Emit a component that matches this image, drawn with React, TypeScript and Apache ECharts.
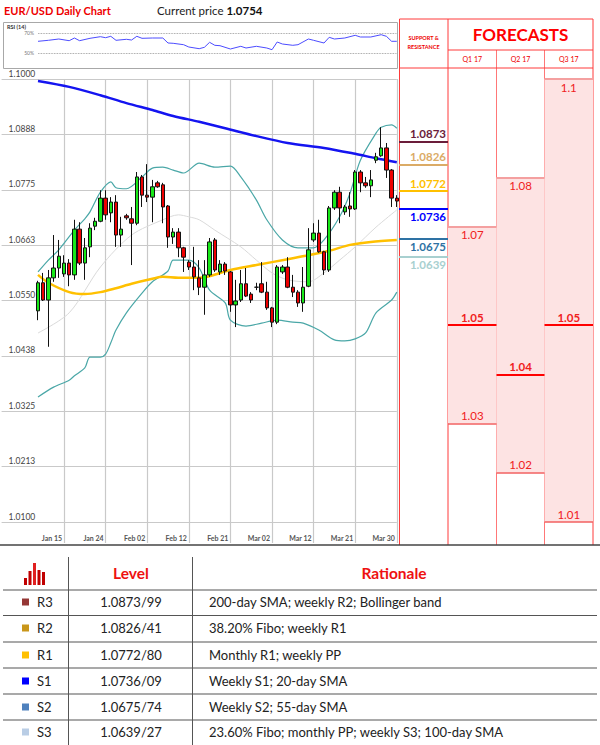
import React, { useEffect, useRef } from 'react';
import * as echarts from 'echarts';

// ---------- data ----------
const PAD = 7; // empty slots before the first candle
const xTickLabels = ['Jan 15', 'Jan 24', 'Feb 02', 'Feb 12', 'Feb 21', 'Mar 02', 'Mar 12', 'Mar 21', 'Mar 30'];
const yTickValues = [1.01, 1.02125, 1.0325, 1.04375, 1.055, 1.06625, 1.0775, 1.08875, 1.1];
const yTickLabels = ['1.0100', '1.0213', '1.0325', '1.0438', '1.0550', '1.0663', '1.0775', '1.0888', '1.1000'];

// [open, close, low, high]
const candles: number[][] = [
  [1.0529, 1.0586, 1.0510, 1.0590], [1.0586, 1.0551, 1.0549, 1.0606], [1.0551, 1.0596, 1.0456, 1.0612],
  [1.0596, 1.0616, 1.0588, 1.0683], [1.0616, 1.0640, 1.0596, 1.0673], [1.0604, 1.0626, 1.0598, 1.0642],
  [1.0626, 1.0602, 1.0579, 1.0634], [1.0602, 1.0695, 1.0592, 1.0714], [1.0695, 1.0626, 1.0622, 1.0709],
  [1.0626, 1.0657, 1.0592, 1.0677], [1.0659, 1.0697, 1.0638, 1.0707], [1.0701, 1.0711, 1.0693, 1.0718],
  [1.0711, 1.0758, 1.0709, 1.0774], [1.0758, 1.0724, 1.0714, 1.0774], [1.0728, 1.0750, 1.0709, 1.0760],
  [1.0750, 1.0683, 1.0659, 1.0764], [1.0683, 1.0695, 1.0659, 1.0720], [1.0722, 1.0718, 1.0714, 1.0726],
  [1.0716, 1.0707, 1.0622, 1.0740], [1.0707, 1.0801, 1.0703, 1.0811], [1.0801, 1.0764, 1.0740, 1.0805],
  [1.0764, 1.0760, 1.0750, 1.0827], [1.0760, 1.0781, 1.0709, 1.0795], [1.0789, 1.0781, 1.0779, 1.0793],
  [1.0785, 1.0740, 1.0707, 1.0789], [1.0742, 1.0679, 1.0657, 1.0744], [1.0679, 1.0689, 1.0665, 1.0697],
  [1.0689, 1.0657, 1.0638, 1.0697], [1.0657, 1.0638, 1.0608, 1.0659], [1.0628, 1.0618, 1.0612, 1.0632],
  [1.0618, 1.0598, 1.0571, 1.0659], [1.0596, 1.0577, 1.0561, 1.0632], [1.0577, 1.0602, 1.0521, 1.0632],
  [1.0602, 1.0669, 1.0598, 1.0677], [1.0673, 1.0612, 1.0608, 1.0677], [1.0608, 1.0624, 1.0602, 1.0632],
  [1.0624, 1.0610, 1.0602, 1.0628], [1.0608, 1.0541, 1.0527, 1.0610], [1.0541, 1.0549, 1.0496, 1.0592],
  [1.0551, 1.0584, 1.0547, 1.0612], [1.0584, 1.0559, 1.0557, 1.0616], [1.0563, 1.0551, 1.0545, 1.0567],
  [1.0577, 1.0577, 1.0571, 1.0586], [1.0584, 1.0567, 1.0565, 1.0628], [1.0567, 1.0535, 1.0531, 1.0588],
  [1.0535, 1.0506, 1.0496, 1.0537], [1.0506, 1.0618, 1.0502, 1.0622], [1.0608, 1.0618, 1.0604, 1.0622],
  [1.0618, 1.0577, 1.0575, 1.0638], [1.0577, 1.0567, 1.0557, 1.0602], [1.0567, 1.0545, 1.0537, 1.0571],
  [1.0545, 1.0577, 1.0527, 1.0618], [1.0579, 1.0653, 1.0577, 1.0697], [1.0673, 1.0687, 1.0669, 1.0707],
  [1.0687, 1.0649, 1.0647, 1.0714], [1.0649, 1.0612, 1.0602, 1.0651], [1.0612, 1.0738, 1.0608, 1.0742],
  [1.0738, 1.0770, 1.0734, 1.0774], [1.0770, 1.0738, 1.0707, 1.0781], [1.0730, 1.0740, 1.0724, 1.0744],
  [1.0742, 1.0736, 1.0720, 1.0770], [1.0736, 1.0811, 1.0734, 1.0815], [1.0811, 1.0789, 1.0770, 1.0815],
  [1.0789, 1.0783, 1.0779, 1.0801], [1.0783, 1.0795, 1.0760, 1.0815], [1.0835, 1.0842, 1.0829, 1.0850],
  [1.0844, 1.0860, 1.0842, 1.0902], [1.0860, 1.0815, 1.0799, 1.0870], [1.0815, 1.0758, 1.0740, 1.0817],
  [1.0758, 1.0752, 1.0740, 1.0764],
];

// [candle index, value]
const sma200: number[][] = [[0, 1.0996], [6, 1.0984], [12, 1.0967], [17, 1.0951], [22, 1.0937], [26, 1.0925], [31, 1.0913], [36, 1.0900], [42, 1.0884], [48, 1.0870], [55, 1.0860], [61, 1.0848], [65, 1.0839], [69, 1.0831]];
const sma55: number[][] = [[0, 1.0602], [2, 1.0586], [6, 1.0567], [9, 1.0563], [12, 1.0567], [15, 1.0575], [18, 1.0584], [22, 1.0594], [24, 1.0598], [27, 1.0596], [31, 1.0596], [37, 1.0612], [42, 1.0622], [48, 1.0634], [52, 1.0642], [56, 1.0651], [60, 1.0663], [64, 1.0669], [69, 1.0673]];
const sma20: number[][] = [[0, 1.0484], [6, 1.0525], [12, 1.0618], [18, 1.0683], [24, 1.0714], [27, 1.0724], [29, 1.0720], [31, 1.0714], [34, 1.0693], [39, 1.0659], [42, 1.0632], [45, 1.0606], [48, 1.0592], [52, 1.0588], [55, 1.0606], [58, 1.0632], [61, 1.0659], [65, 1.0699], [69, 1.0734]];
const bbUpper: number[][] = [[0, 1.0608], [2, 1.0632], [4, 1.0653], [7, 1.0693], [9, 1.0716], [10, 1.0730], [12, 1.0770], [14, 1.0791], [15, 1.0779], [17, 1.0777], [20, 1.0801], [22, 1.0819], [24, 1.0821], [26, 1.0815], [28, 1.0809], [31, 1.0829], [34, 1.0821], [37, 1.0823], [39, 1.0801], [42, 1.0754], [44, 1.0714], [47, 1.0673], [50, 1.0657], [53, 1.0657], [55, 1.0673], [58, 1.0720], [60, 1.0768], [62, 1.0835], [65, 1.0890], [66, 1.0902], [68, 1.0907], [69, 1.0900]];
const bbLower: number[][] = [[0, 1.0354], [3, 1.0374], [6, 1.0388], [7, 1.0397], [9, 1.0413], [10, 1.0435], [12, 1.0435], [13, 1.0441], [14, 1.0464], [15, 1.0490], [17, 1.0525], [20, 1.0565], [22, 1.0588], [25, 1.0610], [26, 1.0632], [29, 1.0632], [31, 1.0616], [33, 1.0571], [36, 1.0545], [37, 1.0510], [40, 1.0498], [43, 1.0504], [46, 1.0510], [49, 1.0506], [51, 1.0504], [54, 1.0490], [57, 1.0470], [59, 1.0468], [61, 1.0472], [63, 1.0484], [65, 1.0525], [68, 1.0551], [69, 1.0567]];
const rsi14: number[][] = [[0, 61.7], [2, 62.7], [4, 64], [6, 62.3], [7, 65], [8, 62.3], [10, 64.7], [12, 66.3], [13, 65.3], [14, 66.7], [15, 62.7], [17, 63.7], [18, 63], [19, 66.7], [20, 64.7], [22, 65], [24, 65], [25, 60], [26, 59.7], [28, 58.3], [29, 56], [31, 54.3], [32, 55.7], [33, 60.7], [34, 57.7], [35, 57.3], [37, 54], [39, 56.7], [40, 55], [42, 56.7], [44, 55], [45, 53.3], [46, 61], [47, 59], [49, 57.7], [50, 58.3], [52, 64], [53, 62.7], [55, 60], [56, 65.7], [57, 64], [59, 65], [61, 67.7], [62, 66], [64, 66], [66, 68.3], [67, 66.7], [68, 61.7], [69, 61.7]];
const rsiLevels = [70, 50];

const currentPrice = '1.0754';
const srLevels = [1.0873, 1.0826, 1.0772, 1.0736, 1.0675, 1.0639];
const srColors = ['#6b1d3a', '#dbab66', '#ffc000', '#0000ff', '#2e72a4', '#a8d0d0'];

const forecastQuarters = ['Q1 17', 'Q2 17', 'Q3 17'];
const forecastHigh = [1.07, 1.08, 1.1];
const forecastMid = [1.05, 1.04, 1.05];
const forecastLow = [1.03, 1.02, 1.01];

const tableCodes = ['R3', 'R2', 'R1', 'S1', 'S2', 'S3'];
const tableLevels = ['1.0873/99', '1.0826/41', '1.0772/80', '1.0736/09', '1.0675/74', '1.0639/27'];
const tableRationales = [
  '200-day SMA; weekly R2; Bollinger band',
  '38.20% Fibo; weekly R1',
  'Monthly R1; weekly PP',
  'Weekly S1; 20-day SMA',
  'Weekly S2; 55-day SMA',
  '23.60% Fibo; monthly PP; weekly S3; 100-day SMA',
];
const tableColors = ['#953735', '#c9961a', '#ffc000', '#0000ff', '#4f81bd', '#b9cde5'];

// ---------- layout ----------
const FONT = 'Lato, "Liberation Sans", Arial, sans-serif';
const RED = '#ee1111';
const GRID_GRAY = '#c9c9c9';
const colLeft = [399, 448, 496.5, 544.5];
const colWidth = [49, 48.5, 48, 48.5];
const PANEL_RIGHT = 593;

export default function App() {
  const ref = useRef<HTMLDivElement>(null);

  useEffect(() => {
    const chart = echarts.init(ref.current!, null, { renderer: 'svg' });
    const nCat = PAD + candles.length;
    const isTick = (idx: number) => idx >= PAD + 5 && (idx - PAD - 5) % 8 === 0;
    const categories = Array.from({ length: nCat }, (_, k) =>
      isTick(k) ? xTickLabels[(k - PAD - 5) / 8] : '_' + k
    );
    const shift = (arr: number[][]) => arr.map(([i, v]) => [i + PAD, v]);
    const candleData: any[] = [...Array(PAD).fill('-'), ...candles];

    const lineSeries = (name: string, arr: number[][], color: string, width: number) => ({
      name,
      type: 'line',
      xAxisIndex: 0,
      yAxisIndex: 0,
      data: shift(arr),
      symbol: 'none',
      smooth: 0.3,
      silent: true,
      z: 2,
      lineStyle: { color, width },
    });

    const series: any[] = [
      {
        type: 'line',
        xAxisIndex: 0,
        yAxisIndex: 0,
        data: [],
        silent: true,
        markLine: {
          silent: true,
          z: 1,
          precision: 6,
          symbol: ['none', 'none'],
          lineStyle: { color: GRID_GRAY, type: 'solid', width: 1.2 },
          label: {
            show: true,
            position: 'insideStartTop',
            distance: [7, 1],
            color: '#444',
            fontSize: 8.5,
            fontFamily: FONT,
          },
          data: yTickValues.map((v, k) => ({ yAxis: v, label: { formatter: yTickLabels[k] } })),
        },
      },
      lineSeries('20-day SMA', sma20, '#dadada', 1),
      lineSeries('BB upper', bbUpper, '#4aa7a7', 1.2),
      lineSeries('BB lower', bbLower, '#4aa7a7', 1.2),
      lineSeries('55-day SMA', sma55, '#ffc000', 2.5),
      lineSeries('200-day SMA', sma200, '#1414f0', 2.5),
      {
        type: 'candlestick',
        xAxisIndex: 0,
        yAxisIndex: 0,
        data: candleData,
        barWidth: 4,
        silent: true,
        z: 3,
        itemStyle: {
          color: '#18e818',
          color0: '#ee0000',
          borderColor: '#111',
          borderColor0: '#111',
          borderWidth: 1,
        },
      },
      {
        type: 'line',
        xAxisIndex: 5,
        yAxisIndex: 5,
        data: shift(rsi14),
        symbol: 'none',
        silent: true,
        lineStyle: { color: '#4c4cff', width: 1 },
        markLine: {
          silent: true,
          precision: 6,
          symbol: ['none', 'none'],
          lineStyle: { color: '#888', type: 'dotted', width: 0.8 },
          label: { show: true, position: 'start', distance: 4, fontSize: 5, color: '#777', fontFamily: FONT },
          data: rsiLevels.map((v) => [
            { coord: [PAD, v], label: { formatter: v + '%' } },
            { coord: [PAD + candles.length - 1, v] },
          ]),
        },
      },
      {
        type: 'line',
        xAxisIndex: 1,
        yAxisIndex: 1,
        data: [],
        silent: true,
        markLine: {
          silent: true,
          precision: 6,
          symbol: ['none', 'none'],
          data: srLevels.map((v, k) => ({
            yAxis: v,
            lineStyle: { color: srColors[k], width: 2, type: 'solid' },
            label: {
              show: true,
              position: k < 3 ? 'insideEndTop' : 'insideEndBottom',
              distance: [2, 2],
              formatter: v.toFixed(4),
              color: srColors[k],
              fontWeight: 'bold',
              fontSize: 11.5,
              fontFamily: FONT,
            },
          })),
        },
      },
      ...forecastQuarters.map((_, q) => ({
        type: 'line',
        xAxisIndex: 2 + q,
        yAxisIndex: 2 + q,
        data: [],
        silent: true,
        markArea: {
          silent: true,
          itemStyle: { color: '#fde3e3', borderWidth: 0 },
          data: [[{ yAxis: forecastHigh[q] }, { yAxis: forecastLow[q] }]],
        },
        markLine: {
          silent: true,
          precision: 6,
          symbol: ['none', 'none'],
          label: { show: true, fontSize: 11.5, color: '#f02020', fontFamily: FONT, distance: 2 },
          data: [
            {
              yAxis: forecastHigh[q],
              lineStyle: { color: '#f4a0a0', width: 2, type: 'solid' },
              label: { position: 'insideMiddleBottom', formatter: String(forecastHigh[q]) },
            },
            {
              yAxis: forecastMid[q],
              lineStyle: { color: '#ff0000', width: 2, type: 'solid' },
              label: { position: 'insideMiddleTop', formatter: String(forecastMid[q]), fontWeight: 'bold' },
            },
            {
              yAxis: forecastLow[q],
              lineStyle: { color: '#f26060', width: 1.5, type: 'solid' },
              label: { position: 'insideMiddleTop', formatter: String(forecastLow[q]) },
            },
          ],
        },
      })),
    ];

    const graphic: any[] = [];
    const line = (x1: number, y1: number, x2: number, y2: number, stroke: string, lineWidth = 1) =>
      graphic.push({ type: 'line', silent: true, shape: { x1, y1, x2, y2 }, style: { stroke, lineWidth } });
    const text = (x: number, y: number, t: string, s: any) =>
      graphic.push({
        type: 'text',
        silent: true,
        x,
        y,
        style: { text: t, fontFamily: FONT, verticalAlign: 'middle', ...s },
      });

    // header
    text(4, 10, 'EUR/USD Daily Chart', { fill: '#ee0000', fontSize: 11, fontWeight: 'bold' });
    graphic.push({
      type: 'text',
      silent: true,
      x: 157,
      y: 10,
      style: {
        text: '{a|Current price }{b|' + currentPrice + '}',
        verticalAlign: 'middle',
        rich: {
          a: { fontSize: 11.5, fontFamily: FONT, fill: '#222' },
          b: { fontSize: 11.5, fontFamily: FONT, fill: '#111', fontWeight: 'bold' },
        },
      },
    });
    // RSI box
    graphic.push({
      type: 'rect',
      silent: true,
      shape: { x: 3.5, y: 22.5, width: 394, height: 46 },
      style: { fill: 'none', stroke: '#a8a8a8', lineWidth: 1 },
    });
    text(7, 27, 'RSI (14)', { fill: '#333', fontSize: 5.5, fontWeight: 'bold' });

    // right panel frame
    const pr = '#ff3a3a';
    line(399.5, 19, 399.5, 545, pr);
    line(448, 19, 448, 545, pr);
    line(496.5, 50, 496.5, 545, '#f77');
    line(544.5, 50, 544.5, 545, '#f77');
    line(PANEL_RIGHT, 19, PANEL_RIGHT, 545, pr);
    line(399.5, 19, PANEL_RIGHT, 19, pr);
    line(448, 50, PANEL_RIGHT, 50, pr);
    line(399.5, 68, PANEL_RIGHT, 68, pr);
    text(520.5, 34, 'FORECASTS', { fill: '#ff0000', fontSize: 17, fontWeight: 'bold', align: 'center' });
    text(423.5, 42, 'SUPPORT &\nRESISTANCE', {
      fill: '#ee0000',
      fontSize: 5.5,
      fontWeight: 'bold',
      align: 'center',
      lineHeight: 9,
    });
    forecastQuarters.forEach((q, k) =>
      text(colLeft[k + 1] + colWidth[k + 1] / 2, 59, q, { fill: '#ee0000', fontSize: 7, align: 'center' })
    );

    // chart bottom line
    line(0, 545, 600, 545, '#444', 1.5);

    // table
    const iconBars = [[24, 578], [28.5, 571], [33, 563], [37.5, 570], [42, 572]];
    iconBars.forEach(([x, top], k) =>
      graphic.push({
        type: 'rect',
        silent: true,
        shape: { x, y: top, width: 3, height: 585 - top },
        style: { fill: k === 2 ? '#e02020' : '#c00000' },
      })
    );
    text(131, 573, 'Level', { fill: RED, fontSize: 15.5, fontWeight: 'bold', align: 'center' });
    text(394, 573, 'Rationale', { fill: RED, fontSize: 15.5, fontWeight: 'bold', align: 'center' });
    line(68.5, 557, 68.5, 745, '#555');
    line(192.5, 557, 192.5, 745, '#555');
    [590, 615.5, 642, 668, 694, 720].forEach((y) => line(3, y, 597, y, '#555', 1.2));
    const rowY = [602, 628, 655, 681, 707, 732];
    tableCodes.forEach((c, k) => {
      graphic.push({
        type: 'rect',
        silent: true,
        shape: { x: 22, y: rowY[k] - 3.5, width: 7, height: 7 },
        style: { fill: tableColors[k] },
      });
      text(37, rowY[k], c, { fill: '#222', fontSize: 13 });
      text(131, rowY[k], tableLevels[k], { fill: '#222', fontSize: 13, align: 'center' });
      text(209, rowY[k], tableRationales[k], { fill: '#222', fontSize: 13 });
    });

    const hiddenValueX = (gridIndex: number) => ({ type: 'value', gridIndex, min: 0, max: 1, show: false });
    const hiddenPriceY = (gridIndex: number) => ({ type: 'value', gridIndex, min: 1.01, max: 1.1, show: false });

    chart.setOption({
      animation: false,
      backgroundColor: '#fff',
      textStyle: { fontFamily: FONT },
      grid: [
        { left: 1.6, top: 79, width: 395.2, height: 443 },
        ...colLeft.map((l, k) => ({ left: l, top: 79, width: colWidth[k], height: 443 })),
        { left: 1.6, top: 22, width: 395.2, height: 46 },
      ],
      xAxis: [
        {
          type: 'category',
          gridIndex: 0,
          data: categories,
          boundaryGap: false,
          axisLine: { show: false },
          axisTick: {
            show: true,
            interval: (i: number) => isTick(i),
            length: 21,
            inside: false,
            lineStyle: { color: GRID_GRAY, width: 1.2 },
          },
          axisLabel: {
            interval: (i: number) => isTick(i),
            formatter: (v: string) => (v.charAt(0) === '_' ? '' : v),
            align: 'right',
            padding: [0, 2, 0, 0],
            margin: 12,
            fontSize: 7,
            color: '#555',
            fontWeight: 'bold',
            fontFamily: FONT,
          },
          splitLine: {
            show: true,
            interval: (i: number) => isTick(i),
            lineStyle: { color: GRID_GRAY, width: 1.2 },
          },
        },
        hiddenValueX(1),
        hiddenValueX(2),
        hiddenValueX(3),
        hiddenValueX(4),
        { type: 'category', gridIndex: 5, data: categories, boundaryGap: false, show: false },
      ],
      yAxis: [
        hiddenPriceY(0),
        hiddenPriceY(1),
        hiddenPriceY(2),
        hiddenPriceY(3),
        hiddenPriceY(4),
        { type: 'value', gridIndex: 5, min: 35, max: 81, show: false },
      ],
      series,
      graphic,
    });

    return () => chart.dispose();
  }, []);

  return (
    <div
      ref={ref}
      style={{ position: 'absolute', left: 0, top: 0, width: 600, height: 745, background: '#fff' }}
    />
  );
}
